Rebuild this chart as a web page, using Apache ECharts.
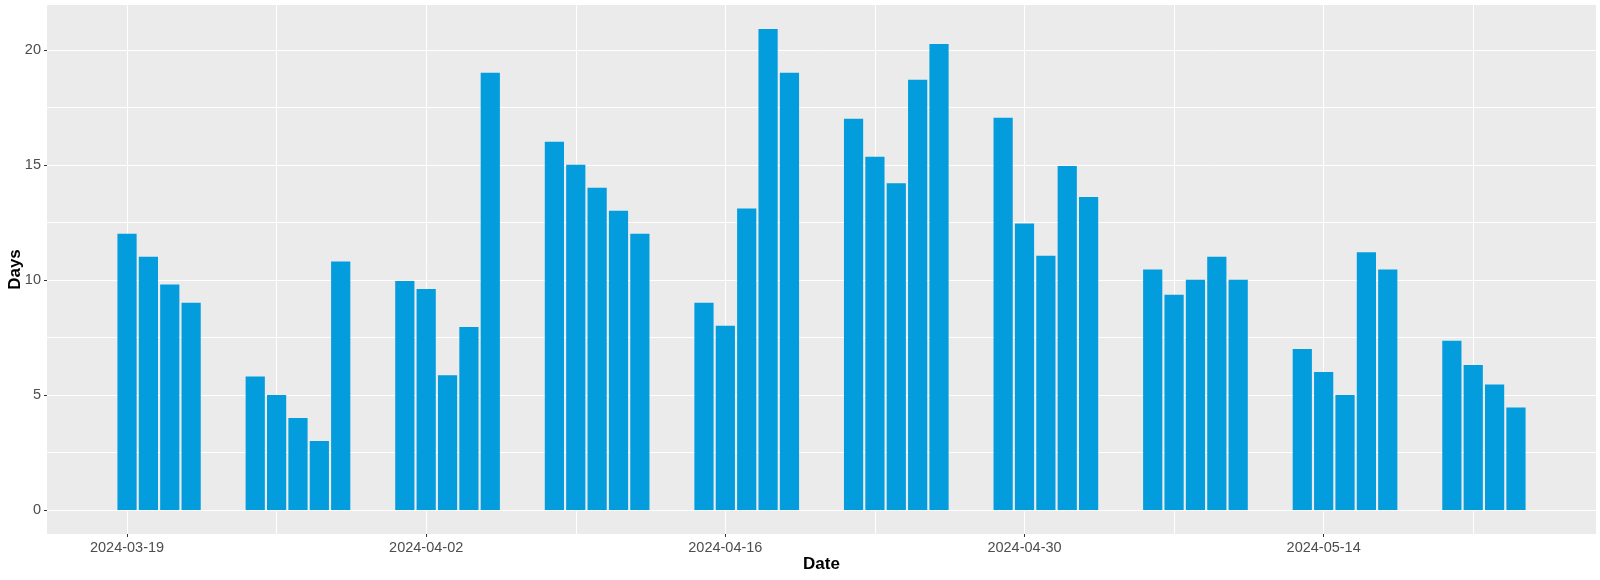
<!DOCTYPE html>
<html>
<head>
<meta charset="utf-8">
<script src="https://cdn.jsdelivr.net/npm/echarts@6/dist/echarts.min.js"></script>
<style>
  html, body { margin: 0; padding: 0; background: #fff; }
  #chart { width: 1600px; height: 580px; }
</style>
</head>
<body>
<div id="chart"></div>
<script>
const dates = [
  '2024-03-19','2024-03-20','2024-03-21','2024-03-22',
  '2024-03-25','2024-03-26','2024-03-27','2024-03-28','2024-03-29',
  '2024-04-01','2024-04-02','2024-04-03','2024-04-04','2024-04-05',
  '2024-04-08','2024-04-09','2024-04-10','2024-04-11','2024-04-12',
  '2024-04-15','2024-04-16','2024-04-17','2024-04-18','2024-04-19',
  '2024-04-22','2024-04-23','2024-04-24','2024-04-25','2024-04-26',
  '2024-04-29','2024-04-30','2024-05-01','2024-05-02','2024-05-03',
  '2024-05-06','2024-05-07','2024-05-08','2024-05-09','2024-05-10',
  '2024-05-13','2024-05-14','2024-05-15','2024-05-16','2024-05-17',
  '2024-05-20','2024-05-21','2024-05-22','2024-05-23'
];
const days = [
  12, 11, 9.8, 9,
  5.8, 5, 4, 3, 10.8,
  9.95, 9.6, 5.85, 7.95, 19,
  16, 15, 14, 13, 12,
  9, 8, 13.1, 20.9, 19,
  17, 15.35, 14.2, 18.7, 20.25,
  17.05, 12.45, 11.05, 14.95, 13.6,
  10.45, 9.35, 10, 11, 10,
  7, 6, 5, 11.2, 10.45,
  7.35, 6.3, 5.45, 4.45
];
const xTickLabels = ['2024-03-19','2024-04-02','2024-04-16','2024-04-30','2024-05-14'];
const xMinorDates = ['2024-03-26','2024-04-09','2024-04-23','2024-05-07','2024-05-21'];
const yTicks = [0, 5, 10, 15, 20];
const yMinorTicks = [2.5, 7.5, 12.5, 17.5];

const DAY = 86400000;
const base = Date.parse(xTickLabels[0]);
const toOff = d => (Date.parse(d) - base) / DAY;
const fromOff = v => new Date(base + Math.round(v) * DAY).toISOString().slice(0, 10);

const xs = dates.map(toOff);
const barHalf = 0.45;
const xLo = Math.min(...xs) - barHalf, xHi = Math.max(...xs) + barHalf;
const xPad = 0.05 * (xHi - xLo);
const xMin = xLo - xPad, xMax = xHi + xPad;
const yMaxData = Math.max(...days);
const yPad = 0.05 * yMaxData;
const yMin = -yPad, yMax = yMaxData + yPad;

const FONT = 'Liberation Sans, Arial, sans-serif';
const gridLine = { show: true, lineStyle: { color: '#FFFFFF', width: 1, type: 'solid' } };

const chart = echarts.init(document.getElementById('chart'), null, { renderer: 'canvas' });
chart.setOption({
  animation: false,
  grid: {
    left: 47, right: 4, top: 5, bottom: 46,
    containLabel: false, outerBoundsMode: 'none',
    show: true, backgroundColor: '#EBEBEB', borderWidth: 0
  },
  xAxis: [
    {
      type: 'value', min: xMin, max: xMax,
      name: 'Date', nameLocation: 'middle', nameGap: 22, nameMoveOverlap: false,
      nameTextStyle: { fontFamily: FONT, fontSize: 17, fontWeight: 'bold', color: '#000' },
      axisLine: { show: false, onZero: false },
      axisTick: { show: true, length: 3, lineStyle: { color: '#333333', width: 1 },
                  customValues: xTickLabels.map(toOff) },
      axisLabel: { show: true, margin: 6, color: '#4D4D4D', fontFamily: FONT, fontSize: 14.5,
                   customValues: xTickLabels.map(toOff), formatter: v => fromOff(v) },
      splitLine: gridLine
    },
    {
      type: 'value', min: xMin, max: xMax, position: 'bottom',
      axisLine: { show: false, onZero: false },
      axisTick: { show: false, customValues: xMinorDates.map(toOff) },
      axisLabel: { show: false },
      splitLine: gridLine
    }
  ],
  yAxis: [
    {
      type: 'value', min: yMin, max: yMax,
      name: 'Days', nameLocation: 'middle', nameGap: 23, nameMoveOverlap: false,
      nameTextStyle: { fontFamily: FONT, fontSize: 17, fontWeight: 'bold', color: '#000' },
      axisLine: { show: false, onZero: false },
      axisTick: { show: true, length: 3, lineStyle: { color: '#333333', width: 1 },
                  customValues: yTicks },
      axisLabel: { show: true, margin: 6, color: '#4D4D4D', fontFamily: FONT, fontSize: 14.5,
                   customValues: yTicks },
      splitLine: gridLine
    },
    {
      type: 'value', min: yMin, max: yMax, position: 'left',
      axisLine: { show: false, onZero: false },
      axisTick: { show: false, customValues: yMinorTicks },
      axisLabel: { show: false },
      splitLine: gridLine
    }
  ],
  series: [{
    type: 'bar',
    xAxisIndex: 0, yAxisIndex: 0,
    data: xs.map((x, i) => [x, days[i]]),
    barWidth: 19.2,
    itemStyle: { color: '#039CDD' },
    z: 3
  }]
});
</script>
</body>
</html>
